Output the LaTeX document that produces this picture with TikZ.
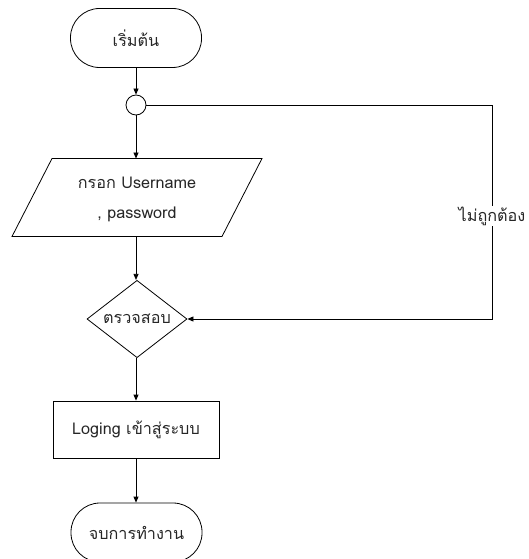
\documentclass[tikz,border=0pt]{standalone}
\usepackage{fontspec}
\setmainfont[Script=Thai]{Loma}
\usetikzlibrary{shapes.geometric,arrows.meta,calc}
\begin{document}
\begin{tikzpicture}[x=1pt,y=-1pt,
  line width=0.8pt,
  font=\fontsize{16.2}{30}\selectfont,
  every node/.append style={text=black!85},
  terminal/.style={draw, rectangle, rounded corners=29pt, minimum width=131pt, minimum height=59pt, inner sep=0pt},
  junction/.style={draw, circle, minimum size=20pt, inner sep=0pt},
  decision/.style={draw, diamond, minimum width=100pt, minimum height=73pt, inner sep=0pt},
  process/.style={draw, rectangle, minimum width=166pt, minimum height=57pt, inner sep=0pt},
  iotext/.style={align=center, inner sep=0pt},
  flow/.style={-{Triangle[length=6pt,width=5pt]}}
]
\useasboundingbox (0,0) rectangle (528,559);

\node[terminal] (start) at (136,38) {เริ่มต้น};
\node[junction] (junc) at (136,105) {};

% input parallelogram: corners and the midpoints of its top and bottom edges
\coordinate (inTL) at (52,158.5);
\coordinate (inTR) at (262,158.5);
\coordinate (inBR) at (222,236.5);
\coordinate (inBL) at (12,236.5);
\coordinate (inTop) at (137,158.5);
\coordinate (inBot) at (137,236.5);
\draw (inTL) -- (inTR) -- (inBR) -- (inBL) -- cycle;
\node[iotext] (input) at (137,199) {กรอก Username\\, password};

\node[decision] (check) at (137,319) {ตรวจสอบ};
\node[process] (login) at (136,429.5) {Loging เข้าสู่ระบบ};
\node[terminal] (stop) at (136.5,532.5) {จบการทำงาน};

\coordinate (loop) at (492,105);

\draw[flow] (start) -- (junc);
\draw[flow] (junc.south) -- (junc.south |- inTop);
\draw[flow] (junc.south |- inBot) -- (check.north -| junc.south);
\draw[flow] (check.south -| junc.south) -- (login.north -| junc.south);
\draw[flow] (login.south -| junc.south) -- (stop.north -| junc.south);
\draw[flow] (junc.east) -- (loop) |- (check.east);
\node[fill=white, inner sep=1pt] (wrong) at (492,216) {ไม่ถูกต้อง};
\end{tikzpicture}
\end{document}
